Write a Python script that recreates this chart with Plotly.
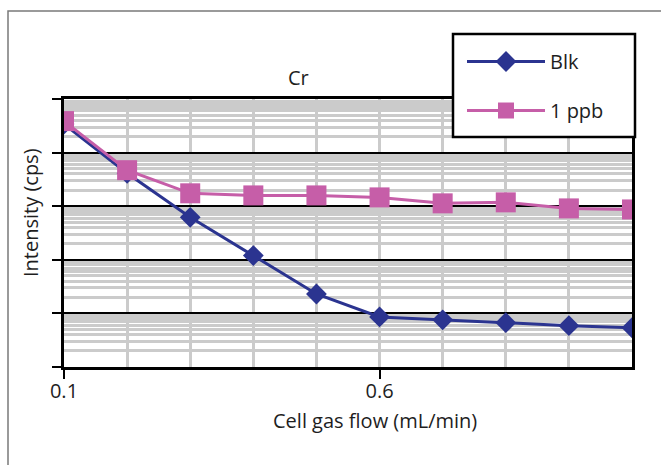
import plotly.graph_objects as go

# Data (cell gas flow, mL/min) and intensities (cps) (log scale)
flow = [0.1, 0.2, 0.3, 0.4, 0.5, 0.6, 0.7, 0.8, 0.9, 1.0]
blk = [34000, 4100, 620, 120, 23, 8.6, 7.6, 6.7, 5.9, 5.4]
ppb1 = [38700, 4700, 1740, 1590, 1590, 1460, 1130, 1180, 910, 870]
series_names = ["Blk", "1 ppb"]
x_tick_vals = [0.1, 0.6]
x_tick_text = ["0.1", "0.6"]

BLUE = "#2b3490"
PINK = "#c65ea8"
FONT = "Open Sans"
TXT = "#1e1e1e"
FS = 20

W, H = 661, 465
L, R, T, B = 64, 29, 99, 98
PW, PH = W - L - R, H - T - B


def px(x):
    return (x - L) / PW


def py(y):
    return (H - B - y) / PH


fig = go.Figure()
fig.add_trace(go.Scatter(
    x=flow, y=blk, name=series_names[0], mode="lines+markers",
    line=dict(color=BLUE, width=3),
    marker=dict(symbol="diamond", size=16, color=BLUE),
    legendgroup="a",
))
fig.add_trace(go.Scatter(
    x=flow, y=ppb1, name=series_names[1], mode="lines+markers",
    line=dict(color=PINK, width=3),
    marker=dict(symbol="square", size=20, color=PINK),
    legendgroup="b",
))

fig.update_layout(
    width=W, height=H,
    margin=dict(l=L, r=R, t=T, b=B, autoexpand=False),
    paper_bgcolor="white", plot_bgcolor="white",
    font=dict(family=FONT, size=FS, color=TXT),
    showlegend=True,
    legend=dict(
        x=px(462), y=py(42), xanchor="left", yanchor="top",
        bgcolor="rgba(0,0,0,0)", borderwidth=0,
        traceorder="grouped", tracegroupgap=20,
        itemwidth=78,
        font=dict(family=FONT, size=FS, color=TXT),
    ),
    xaxis=dict(
        range=[0.1, 1.0], showline=True, linecolor="black", linewidth=3, mirror=True,
        tickmode="array", tickvals=x_tick_vals, ticktext=x_tick_text,
        ticks="outside", ticklen=9, tickwidth=2, tickcolor="black",
        ticklabelstandoff=-5,
        showgrid=True, gridcolor="#cbcbcb", gridwidth=3,
        minor=dict(dtick=0.1, tick0=0.1, showgrid=True, gridcolor="#cbcbcb", gridwidth=3, ticks=""),
        zeroline=False,
    ),
    yaxis=dict(
        type="log", range=[0, 5], showline=True, linecolor="black", linewidth=3, mirror=True,
        dtick=1, showticklabels=False,
        ticks="outside", ticklen=9, tickwidth=2, tickcolor="black",
        showgrid=True, gridcolor="black", gridwidth=2,
        minor=dict(dtick="D1", showgrid=True, gridcolor="#cbcbcb", gridwidth=3, ticks=""),
        zeroline=False,
    ),
    shapes=[
        # outer frame (top and left visible)
        dict(type="rect", xref="paper", yref="paper",
             x0=px(8), x1=px(700), y0=py(11), y1=py(500),
             line=dict(color="#7a7a7a", width=1.5), fillcolor="rgba(0,0,0,0)", layer="below"),
        # legend box
        dict(type="rect", xref="paper", yref="paper",
             x0=px(453), x1=px(635), y0=py(34), y1=py(137),
             line=dict(color="black", width=2.5), fillcolor="white", layer="above"),
    ],
    annotations=[
        dict(text="Cr", xref="paper", yref="paper", x=px(298), y=py(77),
             showarrow=False, xanchor="center", yanchor="middle", font=dict(size=FS)),
        dict(text="Intensity (cps)", xref="paper", yref="paper", x=px(30), y=py(213),
             showarrow=False, textangle=-90, xanchor="center", yanchor="middle", font=dict(size=FS)),
        dict(text="Cell gas flow (mL/min)", xref="paper", yref="paper", x=px(375), y=py(420),
             showarrow=False, xanchor="center", yanchor="middle", font=dict(size=FS)),
    ],
)

fig.write_html("out.html", config={"displayModeBar": False},
               post_script="document.body.style.margin='0px';")
